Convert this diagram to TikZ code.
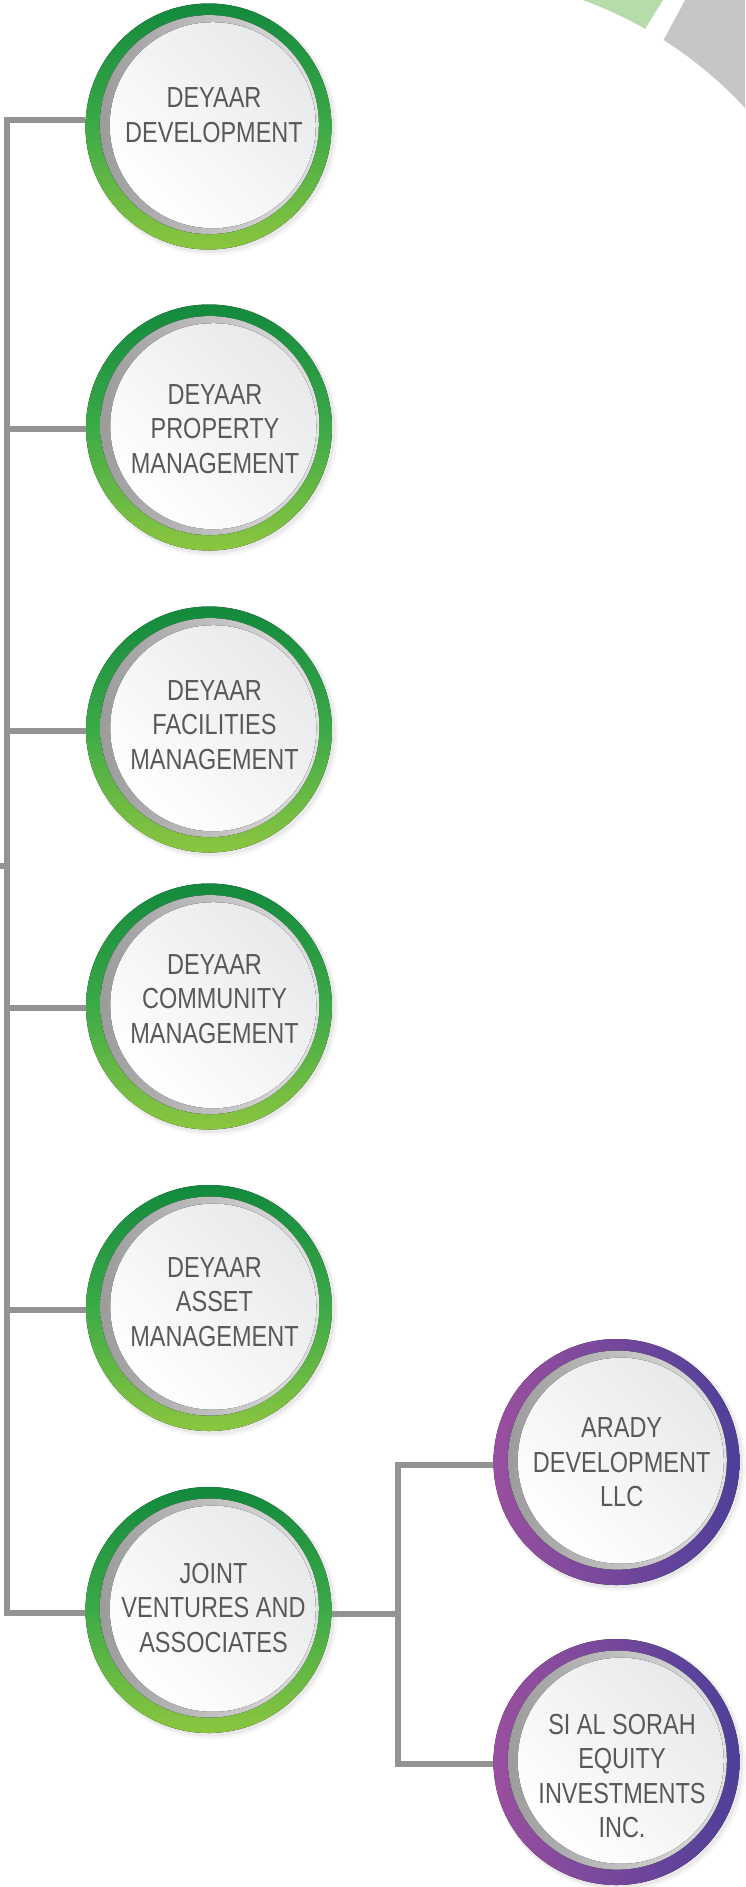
\documentclass[tikz,border=0pt]{standalone}
\usepackage{fontspec}
\setmainfont{Liberation Sans}[FakeStretch=0.81]
\usetikzlibrary{calc}
\definecolor{gdark}{HTML}{12893D}
\definecolor{gmid}{HTML}{3DAA48}
\definecolor{glight}{HTML}{8CC63F}
\definecolor{pleft}{HTML}{9A4F9F}
\definecolor{pright}{HTML}{4E3F99}
\definecolor{ringdark}{HTML}{9C9C9C}
\definecolor{ringlight}{HTML}{E2E2E2}
\definecolor{discshade}{HTML}{E8E9EB}
\definecolor{txt}{HTML}{58595B}
\definecolor{conncol}{HTML}{939393}
\definecolor{arcgreen}{HTML}{B6DCAA}
\definecolor{arcgrey}{HTML}{C6C6C6}
\tikzset{
  conn/.style={draw=conncol, line width=6pt},
  unit/.style={circle, minimum size=246pt, inner sep=0pt},
  lbl/.style={text=txt, align=center, inner sep=0pt, font=\fontsize{29}{34.5}\selectfont},
  greenring/.style={top color=gdark, bottom color=glight, middle color=gmid},
  purplering/.style={left color=pleft, right color=pright}
}
\newcommand\orgunit[4]{%
  \fill[black,opacity=0.035] (#2+3,#3+3) circle (126pt);
  \fill[black,opacity=0.05] (#2+2,#3+2) circle (124.5pt);
  \fill[#4] (#2,#3) circle (123pt);
  \fill[left color=ringdark, right color=ringlight] (#2+0.8,#3-1.9) circle (109.5pt);
  \fill[top color=discshade, bottom color=white, shading angle=-45] (#2+4.3,#3-1.3) circle (103pt);
  \node[unit] (#1) at (#2,#3) {};
}
\begin{document}
\begin{tikzpicture}[x=1pt,y=-1pt]
\useasboundingbox (0,0) rectangle (745,1887);
% decorative arcs at top right
\begin{scope}
  \clip (0,0) rectangle (745,1887);
  \begin{scope}
    \clip (694,-50) -- (539,200) -- (300,200) -- (300,-50) -- cycle;
    \fill[arcgreen, even odd rule] (440.3,390.8) circle (700pt) (440.3,390.8) circle (415.8pt);
  \end{scope}
  \begin{scope}
    \clip (712,-50) -- (524,300) -- (900,300) -- (900,-50) -- cycle;
    \fill[arcgrey, even odd rule] (440.3,390.8) circle (700pt) (440.3,390.8) circle (415.8pt);
  \end{scope}
\end{scope}
% units
\orgunit{dev}{208.5}{126.5}{greenring}
\orgunit{prop}{209}{427.5}{greenring}
\orgunit{fac}{209}{729.5}{greenring}
\orgunit{com}{209}{1006.5}{greenring}
\orgunit{asset}{209}{1308}{greenring}
\orgunit{jv}{208.5}{1610}{greenring}
\orgunit{arady}{616.5}{1462}{purplering}
\orgunit{sorah}{616.5}{1762}{purplering}
% labels
\node[lbl] (dev-t) at (214,115.3) {DEYAAR\\DEVELOPMENT};
\node[lbl] (prop-t) at (215,428.7) {DEYAAR\\PROPERTY\\MANAGEMENT};
\node[lbl] (fac-t) at (214.5,725) {DEYAAR\\FACILITIES\\MANAGEMENT};
\node[lbl] (com-t) at (214.5,998.7) {DEYAAR\\COMMUNITY\\MANAGEMENT};
\node[lbl] (asset-t) at (214.5,1302) {DEYAAR\\ASSET\\MANAGEMENT};
\node[lbl] (jv-t) at (213.5,1607.5) {JOINT\\VENTURES AND\\ASSOCIATES};
\node[lbl] (arady-t) at (621.7,1462.5) {ARADY\\DEVELOPMENT\\LLC};
\node[lbl] (sorah-t) at (622,1775.8) {SI AL SORAH\\EQUITY\\INVESTMENTS\\INC.};
% connectors
\coordinate (trunk) at (7,0);
\coordinate (parent) at (0,866);
\coordinate (jct) at (398,0);
\draw[conn] ([yshift=6.5pt]dev.west) -- ([yshift=6.5pt]dev.west -| trunk) -- ([yshift=-3pt]jv.west -| trunk) -- ([yshift=-3pt]jv.west);
\draw[conn] ([yshift=-1.5pt]prop.west -| trunk) -- ([yshift=-1.5pt]prop.west);
\draw[conn] ([yshift=-1.5pt]fac.west -| trunk) -- ([yshift=-1.5pt]fac.west);
\draw[conn] ([yshift=-1.5pt]com.west -| trunk) -- ([yshift=-1.5pt]com.west);
\draw[conn] ([yshift=-2pt]asset.west -| trunk) -- ([yshift=-2pt]asset.west);
\draw[conn] (parent) -- (parent -| trunk);
\draw[conn] ([yshift=-4pt]jv.east) -- ([yshift=-4pt]jv.east -| jct);
\draw[conn] ([yshift=-3pt]arady.west) -- ([yshift=-3pt]arady.west -| jct) -- ([yshift=-2pt]sorah.west -| jct) -- ([yshift=-2pt]sorah.west);
\end{tikzpicture}
\end{document}
